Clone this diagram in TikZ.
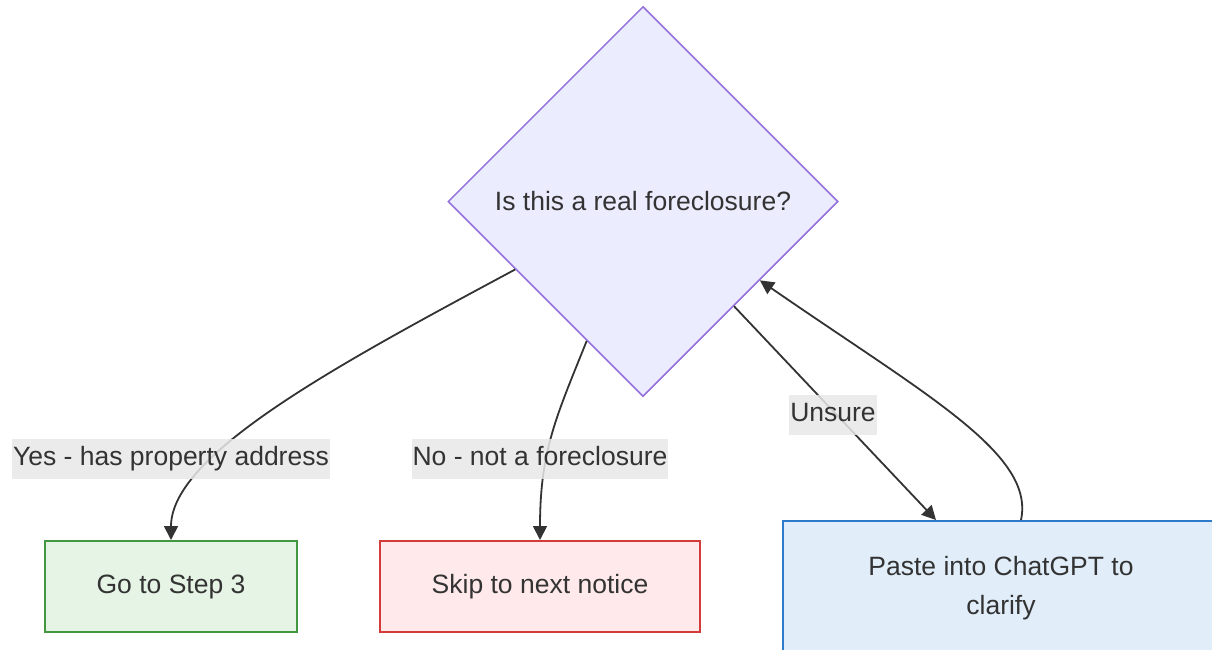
\documentclass[tikz,border=0pt]{standalone}
\usepackage{fontspec}
\setmainfont{Liberation Sans}
\usetikzlibrary{shapes.geometric,arrows.meta}
\definecolor{txt}{HTML}{333333}
\definecolor{lnk}{HTML}{333333}
\definecolor{dfill}{HTML}{ECECFF}
\definecolor{dline}{HTML}{9370DB}
\definecolor{gfill}{HTML}{E6F4E6}
\definecolor{gline}{HTML}{43973F}
\definecolor{rfill}{HTML}{FFE9EB}
\definecolor{rline}{HTML}{D33A3A}
\definecolor{bfill}{HTML}{E1EEFA}
\definecolor{bline}{HTML}{2F7ACB}
\definecolor{lblbg}{HTML}{E8E8E8}
\tikzset{
  every node/.style={font=\fontsize{26.5}{39}\selectfont, text=txt},
  decision/.style={diamond, draw=dline, fill=dfill, line width=1.5pt, minimum width=390pt, minimum height=390pt, inner sep=0pt},
  boxnode/.style={rectangle, line width=2pt, inner sep=0pt, align=center},
  lbl/.style={fill=lblbg, fill opacity=0.85, text opacity=1, inner xsep=1pt, inner ysep=0pt, text height=19pt, text depth=6pt, minimum height=40pt},
  link/.style={draw=lnk, line width=1.8pt, -{Triangle[length=14pt,width=14pt]}}
}
\begin{document}
\begin{tikzpicture}[x=1pt,y=-1pt]
\useasboundingbox (0,0) rectangle (1212,649);
\clip (0,0) rectangle (1212,649);
\node[decision] (d) at (643,201.5) {Is this a real foreclosure?};
\node[boxnode, draw=gline, fill=gfill, minimum width=252pt, minimum height=91pt] (g) at (171,586.5) {Go to Step 3};
\node[boxnode, draw=rline, fill=rfill, minimum width=320pt, minimum height=91pt] (r) at (540,586.5) {Skip to next notice};
\node[boxnode, draw=bline, fill=bfill, minimum width=436pt, minimum height=134pt] (b) at (1001,588) {Paste into ChatGPT to\\clarify};
% edges
\draw[link] (d.208.7) .. controls +(-177,95) and +(0,-86) .. (g.north);
\draw[link] (d.248.3) .. controls +(-30,75) and +(0,-90) .. (r.north);
\draw[link] (d.311.5) -- ([xshift=-65pt]b.north);
\draw[link] ([xshift=20pt]b.north) .. controls +(14,-66) and +(168,116) .. (d.326.8);
% labels
\node[lbl] (ly) at (171,459) {Yes - has property address};
\node[lbl] (ln) at (540,459) {No - not a foreclosure};
\node[lbl] (lu) at (833,414.5) {Unsure};
\end{tikzpicture}
\end{document}
